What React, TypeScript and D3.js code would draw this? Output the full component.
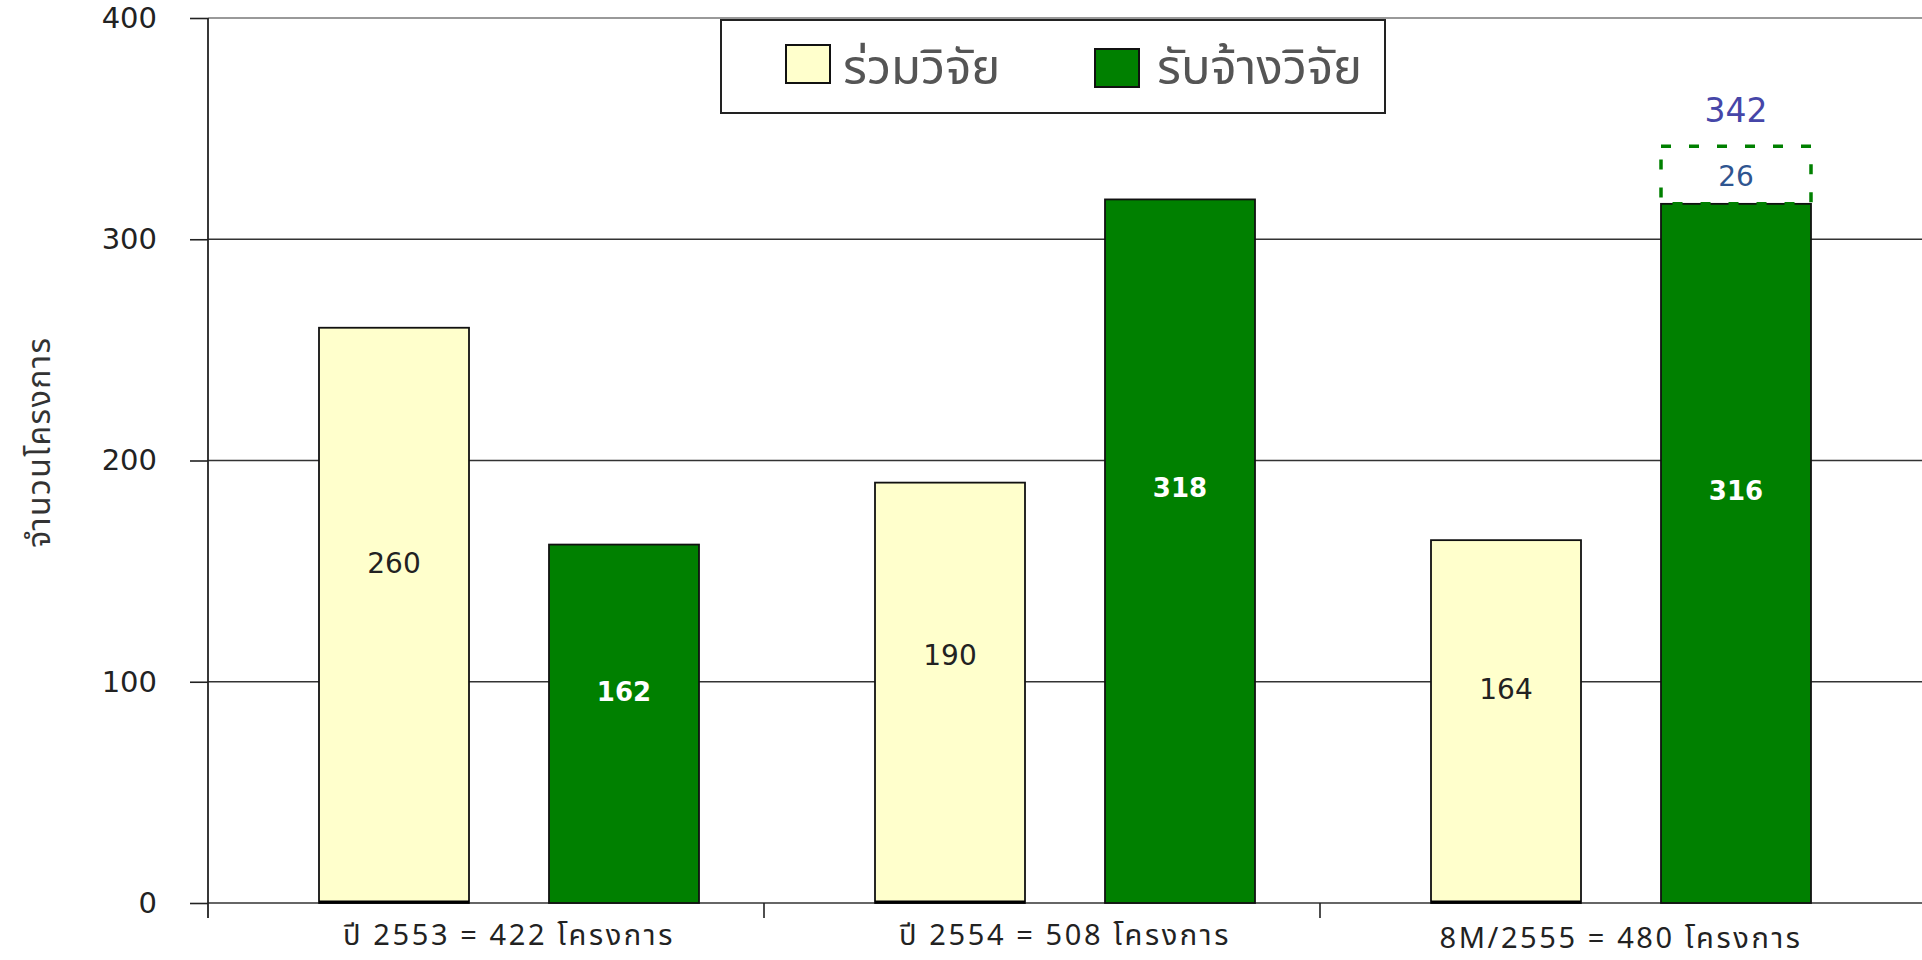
import React from "react";
import * as d3 from "d3";

const categories = ["ปี 2553 = 422 โครงการ", "ปี 2554 = 508 โครงการ", "8M/2555 = 480 โครงการ"];
const seriesNames = ["ร่วมวิจัย", "รับจ้างวิจัย"];
const jointValues = [260, 190, 164];
const contractValues = [162, 318, 316];
const pendingValues = [0, 0, 26];
const yTicks = [0, 100, 200, 300, 400];
const yTitle = "จำนวนโครงการ";

const YELLOW = "#FFFFCC";
const GREEN = "#008000";
const THAI = "'Noto Sans Thai', 'Noto Sans', 'DejaVu Sans', sans-serif";
const LATIN = "'DejaVu Sans', Verdana, sans-serif";

const W = 1922;
const H = 960;

const App = () => {
  const ref = React.useRef<SVGSVGElement>(null);

  React.useEffect(() => {
    const svg = d3.select(ref.current);
    svg.selectAll("*").remove();

    const x = d3.scaleBand(categories, [208, 1876]);
    const inner = d3.scaleBand(seriesNames, [111, 491]).paddingInner(80 / 230);
    const y = d3.scaleLinear([0, 400], [903, 18]);
    const groupMid = (c: string) => (x(c) as number) + 301;

    // gridlines
    svg.append("g")
      .selectAll("line")
      .data(yTicks)
      .enter().append("line")
        .attr("x1", 208).attr("x2", W)
        .attr("y1", d => y(d)).attr("y2", d => y(d))
        .attr("stroke", d => (d === 400 ? "#777" : "#333"))
        .attr("stroke-width", 1.6);

    // y axis
    const yAxis = d3.axisLeft(y).tickValues(yTicks).tickSize(18).tickSizeOuter(0).tickPadding(33);
    const ga = svg.append("g").attr("transform", "translate(208,0)").call(yAxis);
    ga.select(".domain").remove();
    ga.selectAll(".tick line").attr("stroke", "#222").attr("stroke-width", 1.6);
    ga.selectAll(".tick text")
      .attr("fill", "#222")
      .style("font-family", LATIN)
      .style("font-size", "29px");
    svg.append("line")
      .attr("x1", 208).attr("x2", 208).attr("y1", y(400)).attr("y2", 918)
      .attr("stroke", "#222").attr("stroke-width", 1.8);

    // category ticks
    svg.append("g")
      .selectAll("line")
      .data(categories.slice(1))
      .enter().append("line")
        .attr("x1", d => x(d) as number).attr("x2", d => x(d) as number)
        .attr("y1", y(0)).attr("y2", 918)
        .attr("stroke", "#222").attr("stroke-width", 1.6);

    const rows = categories.map((c, i) => ({ c, vals: [jointValues[i], contractValues[i]], pending: pendingValues[i] }));

    // bars
    const groups = svg.append("g")
      .selectAll("g")
      .data(rows)
      .enter().append("g")
        .attr("transform", d => `translate(${x(d.c)},0)`);

    groups.selectAll("rect")
      .data(d => d.vals.map((v, k) => ({ v, k })))
      .enter().append("rect")
        .attr("x", d => inner(seriesNames[d.k]) as number)
        .attr("y", d => y(d.v))
        .attr("width", inner.bandwidth())
        .attr("height", d => y(0) - y(d.v))
        .attr("fill", d => (d.k === 0 ? YELLOW : GREEN))
        .attr("stroke", "#111")
        .attr("stroke-width", 1.8);

    // thick base under yellow bars
    groups.append("line")
      .attr("x1", inner(seriesNames[0]) as number)
      .attr("x2", (inner(seriesNames[0]) as number) + inner.bandwidth())
      .attr("y1", y(0) - 1).attr("y2", y(0) - 1)
      .attr("stroke", "#000").attr("stroke-width", 3);

    groups.selectAll("text.val")
      .data(d => d.vals.map((v, k) => ({ v, k })))
      .enter().append("text")
        .attr("class", "val")
        .attr("x", d => (inner(seriesNames[d.k]) as number) + inner.bandwidth() / 2)
        .attr("y", d => y(d.v * 0.59))
        .attr("dy", "0.35em")
        .attr("text-anchor", "middle")
        .attr("fill", d => (d.k === 0 ? "#222" : "#fff"))
        .style("font-family", LATIN)
        .style("font-size", d => (d.k === 0 ? "28px" : "26px"))
        .style("font-weight", d => (d.k === 0 ? "normal" : "bold"))
        .text(d => d.v);

    // pending (dashed) part
    const pend = groups.filter(d => d.pending > 0);
    const gx = inner(seriesNames[1]) as number;
    pend.append("rect")
      .attr("x", gx)
      .attr("y", d => y(d.vals[1] + d.pending))
      .attr("width", inner.bandwidth())
      .attr("height", d => y(d.vals[1]) - y(d.vals[1] + d.pending))
      .attr("fill", "none")
      .attr("stroke", GREEN)
      .attr("stroke-width", 3.5)
      .attr("stroke-dasharray", "10 18");
    pend.append("text")
      .attr("x", gx + inner.bandwidth() / 2)
      .attr("y", d => y(d.vals[1] + d.pending / 2))
      .attr("dy", "0.38em")
      .attr("text-anchor", "middle")
      .attr("fill", "#2f5590")
      .style("font-family", LATIN)
      .style("font-size", "28px")
      .text(d => d.pending);
    pend.append("text")
      .attr("x", gx + inner.bandwidth() / 2)
      .attr("y", 110)
      .attr("dy", "0.36em")
      .attr("text-anchor", "middle")
      .attr("fill", "#4646a8")
      .style("font-family", LATIN)
      .style("font-size", "33px")
      .text(d => d.vals[1] + d.pending);

    // category labels
    svg.append("g")
      .selectAll("text")
      .data(categories)
      .enter().append("text")
        .attr("x", d => groupMid(d))
        .attr("y", (d, i) => (i === 2 ? 948 : 945))
        .attr("text-anchor", "middle")
        .attr("fill", "#222")
        .style("font-family", THAI)
        .style("font-size", "29px")
        .style("letter-spacing", "2.6px")
        .text(d => d);

    // y title
    svg.append("text")
      .attr("transform", "translate(50,442) rotate(-90)")
      .attr("text-anchor", "middle")
      .attr("fill", "#333")
      .style("font-family", THAI)
      .style("font-size", "32px")
      .style("letter-spacing", "1.5px")
      .text(yTitle);

    // legend
    const lg = svg.append("g");
    lg.append("rect")
      .attr("x", 721).attr("y", 20).attr("width", 664).attr("height", 93)
      .attr("fill", "#fff").attr("stroke", "#222").attr("stroke-width", 2);
    const items = [
      { name: seriesNames[0], fill: YELLOW, sx: 786, sy: 45, tx: 843 },
      { name: seriesNames[1], fill: GREEN, sx: 1095, sy: 49, tx: 1157 },
    ];
    lg.selectAll("rect.sw")
      .data(items)
      .enter().append("rect")
        .attr("class", "sw")
        .attr("x", d => d.sx).attr("y", d => d.sy)
        .attr("width", 44).attr("height", 38)
        .attr("fill", d => d.fill)
        .attr("stroke", "#111").attr("stroke-width", 2);
    lg.selectAll("text")
      .data(items)
      .enter().append("text")
        .attr("x", d => d.tx).attr("y", 84)
        .attr("fill", "#555")
        .style("font-family", THAI)
        .style("font-size", "49px")
        .text(d => d.name);
  }, []);

  return (
    <svg
      ref={ref}
      width={W}
      height={H}
      style={{ position: "absolute", left: 0, top: 0, background: "#fff" }}
    />
  );
};

export default App;
